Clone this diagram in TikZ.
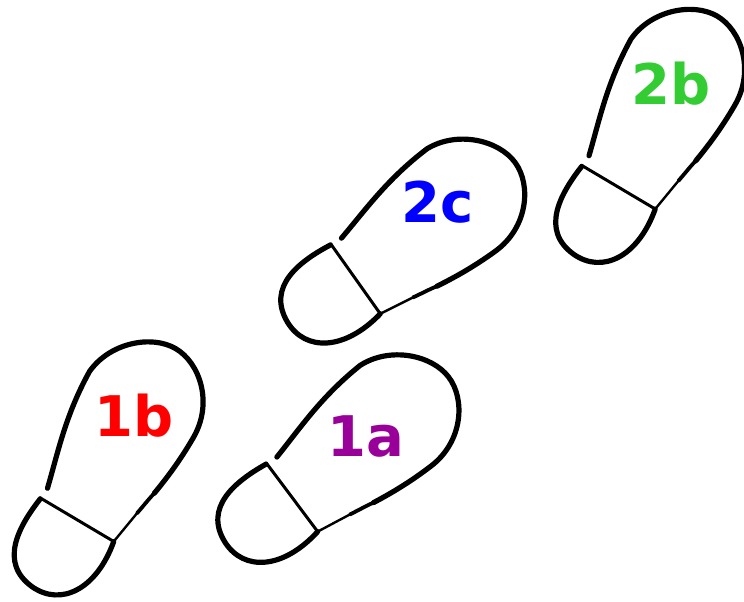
\documentclass[tikz,border=0pt]{standalone}
\usepackage{fontspec}
\setsansfont{DejaVu Sans}
\usepackage{xcolor}
\usepackage{tikz}
\usetikzlibrary{positioning}

\definecolor{stepred}{HTML}{FF0000}
\definecolor{steppurple}{HTML}{990099}
\definecolor{stepblue}{HTML}{0000FF}
\definecolor{stepgreen}{HTML}{33CC33}

\tikzset{%
  sole/.style = {line width=5.2pt, line cap=round, line join=round},
  solemid/.style = {line width=3.8pt, line cap=round},
  solethin/.style = {line width=2.4pt, line cap=round},
  heelline/.style = {line width=3pt, line cap=round},
  steplabel/.style = {font=\sffamily\bfseries\fontsize{56}{60}\selectfont, inner sep=0pt, anchor=base},
  % one shoe print, heel joint at the origin, toe pointing up
  footprint/.pic = {
    % front part of the sole, thinning out towards the heel
    \draw[sole] (-41,13) .. controls (-50,50) and (-62,85) .. (-63,135)
      .. controls (-60,170) and (-28,198) .. (0,198)
      .. controls (28,198) and (60,170) .. (60,130)
      .. controls (60,102) and (57,80) .. (54,62);
    \draw[solemid] (54,62) .. controls (52,54) and (51,46) .. (49,36);
    \draw[solethin] (49,36) .. controls (47,24) and (45,12) .. (43,0);
    % heel
    \draw[sole] (-42,0) .. controls (-47,-35) and (-46,-76) .. (-5,-80)
      .. controls (30,-83) and (52,-50) .. (43,0);
    \draw[heelline] (-43,1) -- (43,0);
  }
}

\begin{document}
\begin{tikzpicture}[x=1pt, y=1pt]
  \useasboundingbox (0,0) rectangle (744,602);

  % the four prints
  \pic[rotate=-30] (foot-1b) at (76.5,82) {footprint};
  \pic[rotate=-52.5] (foot-1a) at (291.5,104.5) {footprint};
  \pic[rotate=-54] (foot-2c) at (355,323) {footprint};
  \pic[rotate=-30] (foot-2b) at (618,414.5) {footprint};

  % step labels
  \node (lbl-1b) [steplabel, text=stepred] at (134.5,165) {1b};
  \node (lbl-1a) [steplabel, text=steppurple] at (366,145) {1a};
  \node (lbl-2c) [steplabel, text=stepblue] at (437.5,379) {2c};
  \node (lbl-2b) [steplabel, text=stepgreen] at (671.5,497) {2b};
\end{tikzpicture}
\end{document}
